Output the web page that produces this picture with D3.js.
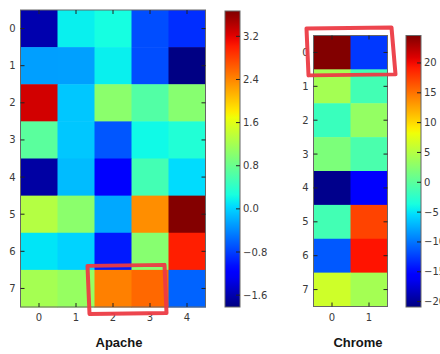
<!DOCTYPE html>
<html>
<head>
<meta charset="utf-8">
<script src="https://cdn.jsdelivr.net/npm/d3@7"></script>
<style>
  body { margin: 0; background: #fff; }
  svg { display: block; }
  .tl { font-family: "DejaVu Sans", sans-serif; font-size: 10px; fill: #3a3a3a; }
  .ttl { font-family: "Liberation Sans", Arial, sans-serif; font-size: 13px; font-weight: bold; fill: #151515; }
</style>
</head>
<body>
<svg id="chart" width="440" height="354"></svg>
<script>
// values (rows 0..7 top to bottom)
var apacheValues = [
  [-1.60, 0.16, 0.25, -0.72, -0.89],
  [-0.28, -0.27, 0.16, -0.72, -1.80],
  [3.28, -0.06, 1.03, 0.65, 1.00],
  [0.70, -0.06, -0.67, 0.21, 0.32],
  [-1.65, -0.12, -1.16, 0.55, 0.05],
  [1.30, 1.03, -0.23, 2.35, 3.65],
  [0.10, 0.00, -1.00, 1.00, 3.00],
  [1.20, 1.10, 2.43, 2.57, -0.60]
];
var chromeValues = [
  [24.5, -12.7],
  [4.1, -1.3],
  [-1.8, 3.2],
  [1.9, -0.9],
  [-20.4, -15.4],
  [-1.3, 17.3],
  [-11.3, 19.6],
  [6.4, 4.1]
];
var apacheRange = [-1.82, 3.67];
var chromeRange = [-20.9, 24.6];
var apacheColorTicks = [-1.6, -0.8, 0.0, 0.8, 1.6, 2.4, 3.2];
var chromeColorTicks = [-20, -15, -10, -5, 0, 5, 10, 15, 20];
var rowLabels = [0, 1, 2, 3, 4, 5, 6, 7];
var apacheCols = [0, 1, 2, 3, 4];
var chromeCols = [0, 1];

// matplotlib jet
var jetR = [[0, 0], [0.35, 0], [0.66, 1], [0.89, 1], [1, 0.5]];
var jetG = [[0, 0], [0.125, 0], [0.375, 1], [0.64, 1], [0.91, 0], [1, 0]];
var jetB = [[0, 0.5], [0.11, 1], [0.34, 1], [0.65, 0], [1, 0]];
function seg(pts, t) {
  for (var i = 1; i < pts.length; i++) {
    if (t <= pts[i][0]) {
      var a = pts[i - 1], b = pts[i];
      return a[1] + (b[1] - a[1]) * (t - a[0]) / (b[0] - a[0]);
    }
  }
  return pts[pts.length - 1][1];
}
function jet(t) {
  t = Math.max(0, Math.min(1, t));
  return d3.rgb(255 * seg(jetR, t), 255 * seg(jetG, t), 255 * seg(jetB, t)).formatHex();
}
function fmtMinus(s) { return s.replace("-", "\u2212"); }

var svg = d3.select("#chart");
var defs = svg.append("defs");

function heatmap(opts) {
  var g = svg.append("g");
  var x = d3.scaleBand().domain(opts.cols).range([opts.x0, opts.x1]);
  var y = d3.scaleBand().domain(rowLabels).range([opts.y0, opts.y1]);
  var norm = d3.scaleLinear().domain(opts.range).range([0, 1]);

  opts.values.forEach(function(row, ri) {
    g.selectAll(null).data(row).enter().append("rect")
      .attr("x", function(d, ci) { return x(ci); })
      .attr("y", y(ri))
      .attr("width", x.bandwidth() + 0.5)
      .attr("height", y.bandwidth() + 0.5)
      .attr("fill", function(d) { return jet(norm(d)); });
  });

  g.append("rect")
    .attr("x", opts.x0).attr("y", opts.y0)
    .attr("width", opts.x1 - opts.x0).attr("height", opts.y1 - opts.y0)
    .attr("fill", "none").attr("stroke", "#666").attr("stroke-width", 1);

  // inward ticks on all four sides
  opts.cols.forEach(function(c) {
    var cx = x(c) + x.bandwidth() / 2;
    g.append("line").attr("x1", cx).attr("x2", cx).attr("y1", opts.y1).attr("y2", opts.y1 - 4).attr("stroke", "#222");
    g.append("line").attr("x1", cx).attr("x2", cx).attr("y1", opts.y0).attr("y2", opts.y0 + 4).attr("stroke", "#222");
    g.append("text").attr("class", "tl").attr("x", cx).attr("y", opts.y1 + 14)
      .attr("text-anchor", "middle").text(c);
  });
  rowLabels.forEach(function(r) {
    var cy = y(r) + y.bandwidth() / 2;
    g.append("line").attr("x1", opts.x0).attr("x2", opts.x0 + 4).attr("y1", cy).attr("y2", cy).attr("stroke", "#222");
    g.append("line").attr("x1", opts.x1).attr("x2", opts.x1 - 4).attr("y1", cy).attr("y2", cy).attr("stroke", "#222");
    g.append("text").attr("class", "tl").attr("x", opts.x0 - 5).attr("y", cy + 3.5)
      .attr("text-anchor", "end").text(r);
  });

  // colorbar
  var cb = opts.cb;
  var gid = "grad" + opts.id;
  var grad = defs.append("linearGradient").attr("id", gid)
    .attr("x1", 0).attr("y1", 1).attr("x2", 0).attr("y2", 0);
  d3.range(0, 1.0001, 0.02).forEach(function(t) {
    grad.append("stop").attr("offset", t).attr("stop-color", jet(t));
  });
  var cy = d3.scaleLinear().domain(opts.range).range([cb.y1, cb.y0]);
  g.append("rect").attr("x", cb.x0).attr("y", cb.y0)
    .attr("width", cb.x1 - cb.x0).attr("height", cb.y1 - cb.y0)
    .attr("fill", "url(#" + gid + ")").attr("stroke", "#666");
  opts.ticks.forEach(function(v) {
    g.append("line").attr("x1", cb.x1).attr("x2", cb.x1 - 4)
      .attr("y1", cy(v)).attr("y2", cy(v)).attr("stroke", "#222");
    g.append("text").attr("class", "tl").attr("x", cb.x1 + 3).attr("y", cy(v) + 3.5)
      .text(fmtMinus(opts.fmt(v)));
  });

  g.append("text").attr("class", "ttl").attr("x", opts.titleX).attr("y", 347)
    .attr("text-anchor", "middle").text(opts.title);

  // hand-drawn red box around highlighted cells
  var hb = opts.highlight;
  var lx = x(hb.c0), rx = x(hb.c1) + x.bandwidth();
  var ty = y(hb.r0), by = y(hb.r1) + y.bandwidth();
  var p = d3.path();
  p.moveTo(lx + hb.d[0], ty + hb.d[1]);
  p.lineTo(rx + hb.d[2], ty + hb.d[3]);
  p.lineTo(rx + hb.d[4], by + hb.d[5]);
  p.lineTo(lx + hb.d[6], by + hb.d[7]);
  p.closePath();
  g.append("path").attr("d", p.toString())
    .attr("fill", "none").attr("stroke", "#ec3b45").attr("stroke-width", 4)
    .attr("stroke-linejoin", "round").attr("stroke-linecap", "round").attr("opacity", 0.95);
}

heatmap({
  id: "a", values: apacheValues, cols: apacheCols, range: apacheRange,
  x0: 20.5, x1: 205.5, y0: 10, y1: 307,
  cb: { x0: 225, x1: 240, y0: 11, y1: 307 },
  ticks: apacheColorTicks, fmt: d3.format(".1f"),
  title: "Apache", titleX: 119,
  highlight: { c0: 2, c1: 3, r0: 7, r1: 7, d: [-7, -4, -4, -5, -2, 6, -5, 7] }
});

heatmap({
  id: "c", values: chromeValues, cols: chromeCols, range: chromeRange,
  x0: 313.5, x1: 387.5, y0: 35.5, y1: 306.5,
  cb: { x0: 406, x1: 421, y0: 35.5, y1: 307 },
  ticks: chromeColorTicks, fmt: d3.format("d"),
  title: "Chrome", titleX: 358,
  highlight: { c0: 0, c1: 1, r0: 0, r1: 0, d: [-7, -7, 4, -8, 8, 5, -5, 6] }
});
</script>
</body>
</html>
